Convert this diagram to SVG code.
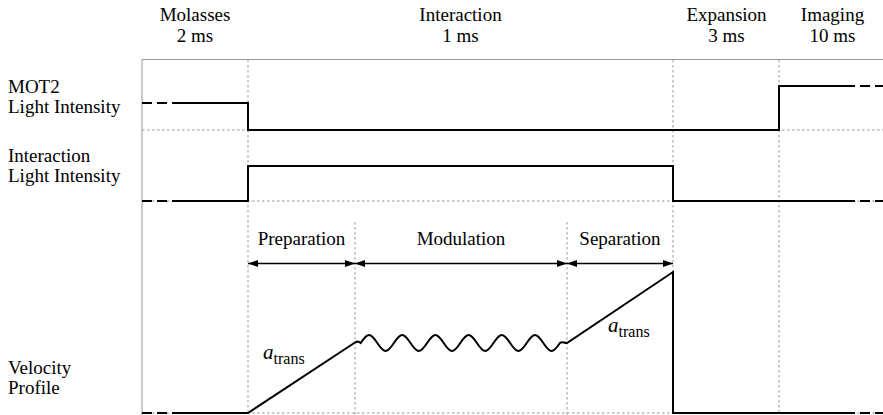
<svg xmlns="http://www.w3.org/2000/svg" width="883" height="415" viewBox="0 0 883 415">
<defs>
<style>
text{font-family:"Liberation Serif","Times New Roman",serif;font-size:19px;fill:#000}
.c{text-anchor:middle}
.ax{stroke:#999;stroke-width:1;fill:none}
.dot{stroke:#999;stroke-width:1;stroke-dasharray:2.5 2.5;fill:none}
.sig{stroke:#000;stroke-width:2;fill:none;stroke-linejoin:miter}
.dash{stroke:#000;stroke-width:2;fill:none;stroke-dasharray:10 5}
.arr{stroke:#000;stroke-width:1.3;fill:none;marker-start:url(#ah);marker-end:url(#ah)}
.it{font-style:italic;font-size:21px}
.sub{font-size:16px}
</style>
<marker id="ah" viewBox="0 0 10 7" refX="10" refY="3.5" markerWidth="10" markerHeight="7" markerUnits="userSpaceOnUse" orient="auto-start-reverse">
<path d="M0,0 L10,3.5 L0,7 Z" fill="#000"/>
</marker>
</defs>
<rect width="883" height="415" fill="#fff"/>
<g id="grid">
<path class="ax" d="M142,59.5 H883 M142,59.5 V415"/>
<path class="dot" d="M248,60 V415 M673,60 V415 M779,60 V415 M355,222 V415 M567,222 V415"/>
<path class="dot" d="M142,130 H883 M142,201 H883 M142,413 H883"/>
</g>
<g id="phase-labels">
<text class="c" x="195" y="21">Molasses</text>
<text class="c" x="195" y="41.5">2 ms</text>
<text class="c" x="460.5" y="21">Interaction</text>
<text class="c" x="460.5" y="41.5">1 ms</text>
<text class="c" x="726.5" y="21">Expansion</text>
<text class="c" x="832.5" y="21">Imaging</text>
<text class="c" x="726.5" y="41.5">3 ms</text>
<text class="c" x="832.5" y="41.5">10 ms</text>
</g>
<g id="mot2">
<text x="8" y="92.5">MOT2</text>
<text x="8" y="112.5">Light Intensity</text>
<path class="dash" d="M142,103 H172"/>
<path class="sig" d="M172,103 H248 V130 H779 V86 H855"/>
<path class="dash" d="M860,86 H885"/>
</g>
<g id="interaction">
<text x="8" y="161.5">Interaction</text>
<text x="8" y="182">Light Intensity</text>
<path class="dash" d="M142,201 H172"/>
<path class="sig" d="M172,201 H248 V166 H673 V201 H855"/>
<path class="dash" d="M860,201 H885"/>
</g>
<g id="velocity">
<text x="8" y="373.5">Velocity</text>
<text x="8" y="394">Profile</text>
<path class="dash" d="M142,413 H172"/>
<path class="sig" d="M172,413 H248 L355,342.5 Q358,340.5 360.7,343 c7.045,-10.667 9.555,-10.667 16.6,0 s9.555,10.667 16.6,0 s9.555,-10.667 16.6,0 s9.555,10.667 16.6,0 s9.555,-10.667 16.6,0 s9.555,10.667 16.6,0 s9.555,-10.667 16.6,0 s9.555,10.667 16.6,0 s9.555,-10.667 16.6,0 s9.555,10.667 16.6,0 s9.555,-10.667 16.6,0 s9.555,10.667 16.6,0 C562.5,340.8 564,343.2 567,343 L673,272 V413 H855"/>
<path class="dash" d="M860,413 H885"/>
<text x="263" y="359"><tspan class="it">a</tspan><tspan class="sub" dy="5">trans</tspan></text>
<text x="608" y="332"><tspan class="it">a</tspan><tspan class="sub" dy="5">trans</tspan></text>
</g>
<g id="stage-labels">
<text class="c" x="301.5" y="245">Preparation</text>
<text class="c" x="461" y="245">Modulation</text>
<text class="c" x="620" y="245">Separation</text>
</g>
<g id="connectors">
<path class="arr" d="M248,263.5 H355"/>
<path class="arr" d="M355,263.5 H567"/>
<path class="arr" d="M567,263.5 H673"/>
</g>
</svg>
